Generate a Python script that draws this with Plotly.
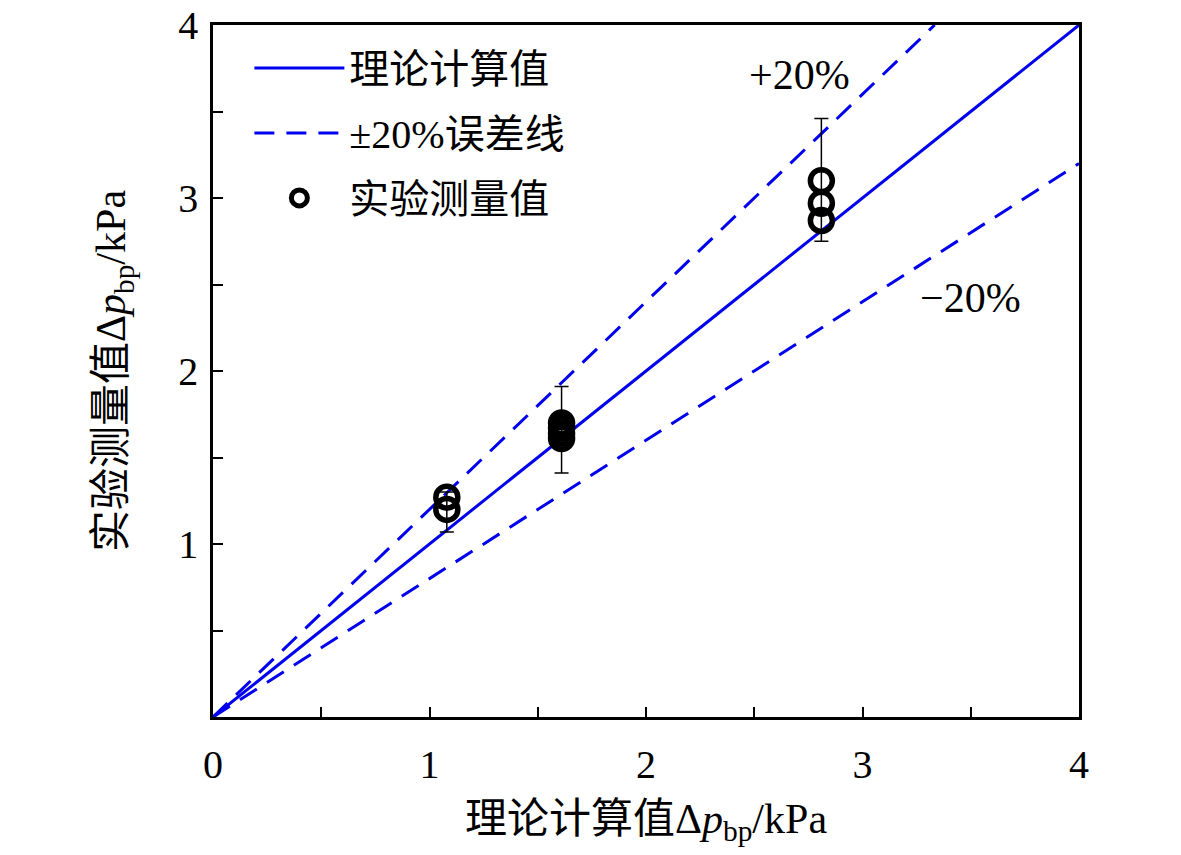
import plotly.graph_objects as go

# theory line and +/-20% error bands
line_x = [0, 4]
band_hi_x = [0, 4 / 1.2]
band_lo_x = [0, 4]

# measured values, grouped by theoretical pressure drop
meas_x = [1.08, 1.08, 1.61, 1.61, 1.61, 1.61, 2.81, 2.81, 2.81]
meas_y = [1.20, 1.27, 1.61, 1.64, 1.67, 1.70, 2.87, 2.97, 3.10]

# error bar per group: centre, upper and lower ends
err_x = [1.08, 1.61, 2.81]
err_mid = [1.20, 1.66, 2.97]
err_top = [1.30, 1.91, 3.46]
err_bot = [1.07, 1.41, 2.75]

FONT = "Liberation Serif, Times New Roman, Noto Sans CJK SC, serif"
BLUE = "#0000ee"
FS = 42

fig = go.Figure()

fig.add_trace(go.Scatter(
    x=line_x, y=line_x, mode="lines", name="理论计算值",
    line=dict(color=BLUE, width=3),
))
fig.add_trace(go.Scatter(
    x=band_hi_x, y=[v * 1.2 for v in band_hi_x], mode="lines", name="±20%误差线",
    line=dict(color=BLUE, width=3, dash="20px,12px"), legendgroup="band",
))
fig.add_trace(go.Scatter(
    x=band_lo_x, y=[v * 0.8 for v in band_lo_x], mode="lines", showlegend=False,
    line=dict(color=BLUE, width=3, dash="20px,12px"), legendgroup="band",
))
fig.add_trace(go.Scatter(
    x=err_x, y=err_mid, mode="markers", showlegend=False,
    marker=dict(size=1, color="rgba(0,0,0,0)"),
    error_y=dict(
        type="data", symmetric=False,
        array=[t - m for t, m in zip(err_top, err_mid)],
        arrayminus=[m - b for m, b in zip(err_mid, err_bot)],
        color="black", thickness=1.5, width=7,
    ),
))
fig.add_trace(go.Scatter(
    x=meas_x, y=meas_y, mode="markers", name="实验测量值",
    marker=dict(symbol="circle-open", size=22, color="black",
                line=dict(color="black", width=5.5)),
))

fig.add_annotation(x=2.71, y=3.71, text="+20%", showarrow=False,
                   font=dict(size=FS, color="black", family=FONT))
fig.add_annotation(x=3.50, y=2.42, text="−20%", showarrow=False,
                   font=dict(size=FS, color="black", family=FONT))

axis_common = dict(
    range=[0, 4], showgrid=False, zeroline=False, automargin=False,
    showline=True, linecolor="black", linewidth=2.5, mirror=True,
    ticks="inside", ticklen=10, tickwidth=2, tickcolor="black",
    ticklabeloverflow="allow",
    tickfont=dict(size=40, color="black", family=FONT),
    minor=dict(dtick=0.5, tick0=0, ticks="inside", ticklen=10,
               tickwidth=2, tickcolor="black", showgrid=False),
)

fig.update_xaxes(
    **axis_common, tickvals=[0, 1, 2, 3, 4], ticklabelstandoff=10,
    title=dict(text="理论计算值Δ<i>p</i><sub>bp</sub>/kPa", standoff=18,
               font=dict(size=FS, color="black", family=FONT)),
)
fig.update_yaxes(
    **axis_common, tickvals=[1, 2, 3, 4], ticklabelstandoff=4,
    title=dict(text="实验测量值Δ<i>p</i><sub>bp</sub>/kPa", standoff=40,
               font=dict(size=FS, color="black", family=FONT)),
)

fig.update_layout(
    width=1181, height=855,
    margin=dict(l=205, r=110, t=17, b=146),
    paper_bgcolor="white", plot_bgcolor="white",
    font=dict(family=FONT, color="black"),
    legend=dict(
        x=0.042, y=0.985, xanchor="left", yanchor="top",
        bgcolor="rgba(0,0,0,0)", itemwidth=90,
        font=dict(size=40, color="black", family=FONT),
    ),
)

fig.write_html("out.html")
